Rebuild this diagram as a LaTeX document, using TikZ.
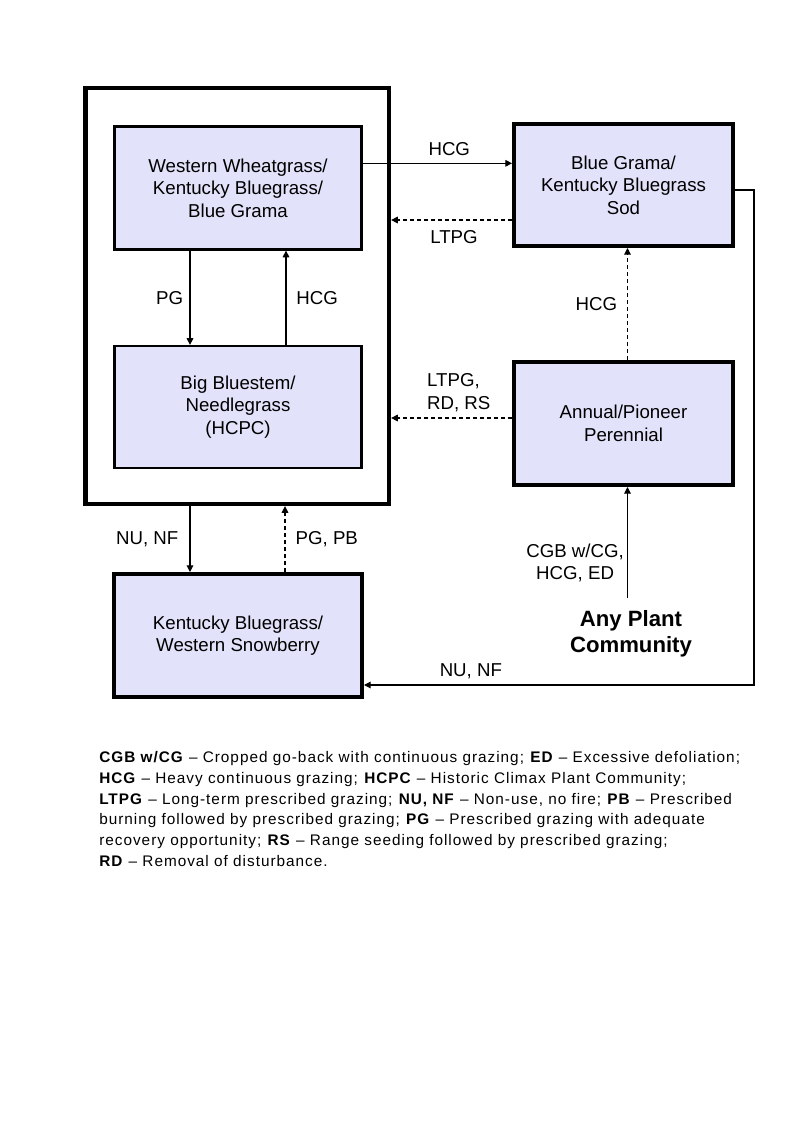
\documentclass[tikz,border=0pt]{standalone}
\usepackage{fontspec}
\setmainfont{Liberation Sans}
\newfontfamily\legendfont[LetterSpace=6.5]{Liberation Sans}
\usetikzlibrary{calc,arrows.meta}
\tikzset {>={Triangle[length=5pt,width=5pt]}}
\definecolor{boxfill}{RGB}{226,226,250}

\begin{document}
\begin{tikzpicture}[x=.75pt,y=-.75pt,
  every node/.style={font=\fontsize{14}{17}\selectfont},
  state/.style={draw,fill=boxfill,line width=1.7pt,align=center,
    minimum width=185.25pt,minimum height=92.25pt},
  thickstate/.style={state,line width=3pt},
  conn/.style={line width=.8pt},
  dashconn/.style={conn,dash pattern=on 3pt off 2.25pt}]
\useasboundingbox (0,0) rectangle (800,1143);
% reference plant community group
\node[draw,line width=3.2pt,minimum width=227.6pt,minimum height=312pt]
  (outer) at (237.25,296) {};
\node[state] (ww) at (238,188)
  {Western Wheatgrass/\\Kentucky Bluegrass/\\Blue Grama};
\node[state,minimum height=91.5pt] (bb) at (238,407)
  {Big Bluestem/\\Needlegrass\\(HCPC)};
% other communities
\node[thickstate,minimum width=164.25pt,minimum height=91.5pt] (bgs)
  at (623.5,185) {Blue Grama/\\Kentucky Bluegrass\\Sod};
\node[thickstate,minimum width=164.25pt] (ap)
  at (623.5,423.5) {Annual/Pioneer\\Perennial};
\node[thickstate,minimum width=186pt] (kbws)
  at (238,635.5) {Kentucky Bluegrass/\\Western Snowberry};
\node[align=center,inner sep=0pt,font=\bfseries\fontsize{16.6}{19.5}\selectfont]
  (apc) at (631,634) {Any Plant\\Community};
% transitions
\draw[conn,->] ($(ww.east)+(0,-24.7)$) coordinate (c) -- (c -| bgs.west)
  node[pos=.58,above=2pt] {HCG};
\draw[dashconn,->] ($(bgs.west)+(0,35)$) coordinate (c) -- (c -| outer.east)
  node[pos=.48,below=4.3pt] {LTPG};
\draw[conn,->] ($(ww.south)+(-48,0)$) coordinate (c) -- (c |- bb.north)
  node[midway,left=1.5pt] {PG};
\draw[conn,->] ($(bb.north)+(48,0)$) coordinate (c) -- (c |- ww.south)
  node[midway,right=4pt] {HCG};
\draw[dashconn,->] ($(ap.north)+(4,0)$) coordinate (c) -- (c |- bgs.south)
  node[midway,left=4pt] {HCG};
\draw[dashconn,->] ($(ap.west)+(0,-5.5)$) coordinate (c) -- (c -| outer.east)
  node[pos=.44,above=1pt,align=left] {LTPG,\\RD, RS};
\draw[conn,<-] ($(kbws.north)+(-48,0)$) coordinate (c) -- (c |- outer.south)
  node[midway,left=5pt] {NU, NF};
\draw[dashconn,->] ($(kbws.north)+(47,0)$) coordinate (c) -- (c |- outer.south)
  node[midway,right=4.3pt] {PG, PB};
\draw[conn,->] ($(apc.north)+(-3.5,-12)$) coordinate (c) -- (c |- ap.south)
  node[pos=.32,left=-1pt,align=center] {CGB w/CG,\\HCG, ED};
\draw[conn,->] ($(bgs.east)+(0,5)$) -- ++(19,0) |- ($(kbws.east)+(0,49.5)$)
  node[pos=.863,above=.7pt] {NU, NF};
% legend
\node[anchor=north west,inner sep=0pt,align=left,
  font=\legendfont\fontsize{11.5}{15.5}\selectfont] (legend) at (99,751.5)
  {\textbf{CGB w/CG} \textendash\ Cropped go-back with continuous grazing; \textbf{ED} \textendash\ Excessive defoliation;\\
   \textbf{HCG} \textendash\ Heavy continuous grazing; \textbf{HCPC} \textendash\ Historic Climax Plant Community;\\
   \textbf{LTPG} \textendash\ Long-term prescribed grazing; \textbf{NU, NF} \textendash\ Non-use, no fire; \textbf{PB} \textendash\ Prescribed\\
   burning followed by prescribed grazing; \textbf{PG} \textendash\ Prescribed grazing with adequate\\
   recovery opportunity; \textbf{RS} \textendash\ Range seeding followed by prescribed grazing;\\
   \textbf{RD} \textendash\ Removal of disturbance.};
\end{tikzpicture}
\end{document}
